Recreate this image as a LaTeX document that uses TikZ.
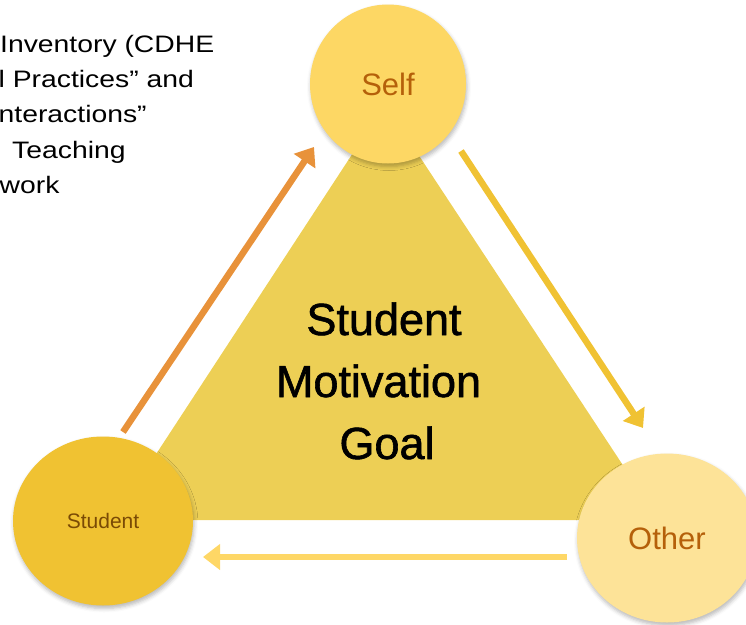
\documentclass[tikz,border=0pt]{standalone}
\usepackage{graphicx}
\usepackage{fontspec}
\setmainfont{Liberation Sans}
\newfontfamily\midfont[FakeBold=1.3]{Liberation Sans}
\usetikzlibrary{shapes.geometric,arrows.meta,shadows.blur}
\definecolor{trifill}{HTML}{EDCF55}
\definecolor{selffill}{HTML}{FDD764}
\definecolor{studfill}{HTML}{F0C232}
\definecolor{othfill}{HTML}{FDE398}
\definecolor{orangearr}{HTML}{E8923A}
\definecolor{rightarr}{HTML}{F0C233}
\definecolor{bottomarr}{HTML}{FED766}
\definecolor{labbrown}{HTML}{B5600A}
\definecolor{studbrown}{HTML}{7A4A05}
\newcommand{\wtxt}[1]{\scalebox{1.19}[1]{#1}}
\tikzset{
  circ/.style={ellipse, inner sep=0pt, draw=none,
    blur shadow={shadow xshift=1pt, shadow yshift=-3pt, shadow blur radius=4pt, shadow opacity=28}},
  arr/.style={line width=6.5pt, -{Triangle[length=17pt,width=25pt]}},
  toptext/.style={anchor=base west, inner sep=0pt, font=\fontsize{23.8}{29}\selectfont},
  midtext/.style={anchor=base, inner sep=0pt, font=\midfont\fontsize{45}{52}\selectfont},
}
\begin{document}
\begin{tikzpicture}[x=1pt,y=-1pt]
\useasboundingbox (0,0) rectangle (746,624);
\clip (0,0) rectangle (746,624);
% triangle
\fill[trifill] (113,520) -- (659,520) -- (385,104) -- cycle;
% top-left text
\node[toptext] (t1) at (0,52) {\wtxt{Inventory (CDHE}};
\node[toptext] (t2) at (-1.5,87) {\wtxt{l Practices” and}};
\node[toptext] (t3) at (-1.5,122) {\wtxt{nteractions”}};
\node[toptext] (t4) at (12,158) {\wtxt{Teaching}};
\node[toptext] (t5) at (-0.5,193) {\wtxt{work}};
% circles
\node[circ, fill=selffill, minimum width=156pt, minimum height=159pt, text=labbrown,
  font=\fontsize{31}{36}\selectfont] (self) at (388,84) {Self};
\node[circ, fill=studfill, minimum width=180pt, minimum height=169pt, text=studbrown,
  font=\fontsize{21}{25}\selectfont] (student) at (103,521) {Student};
\node[circ, fill=othfill, minimum width=180pt, minimum height=169pt, text=labbrown,
  font=\fontsize{31}{36}\selectfont] (other) at (667,538) {Other};
% arrow endpoints
\coordinate (oa) at (123,432);
\coordinate (ob) at (314,147);
\coordinate (ra) at (461,151);
\coordinate (rb) at (643,428);
\coordinate (ba) at (567,557);
\coordinate (bb) at (203,557);
\draw[arr, orangearr] (oa) -- (ob);
\draw[arr, rightarr] (ra) -- (rb);
\draw[arr, bottomarr] (ba) -- (bb);
% central text
\node[midtext] (m1) at (384,335) {Student};
\node[midtext] (m2) at (378.5,397) {Motivation};
\node[midtext] (m3) at (387,459) {Goal};
\end{tikzpicture}
\end{document}
